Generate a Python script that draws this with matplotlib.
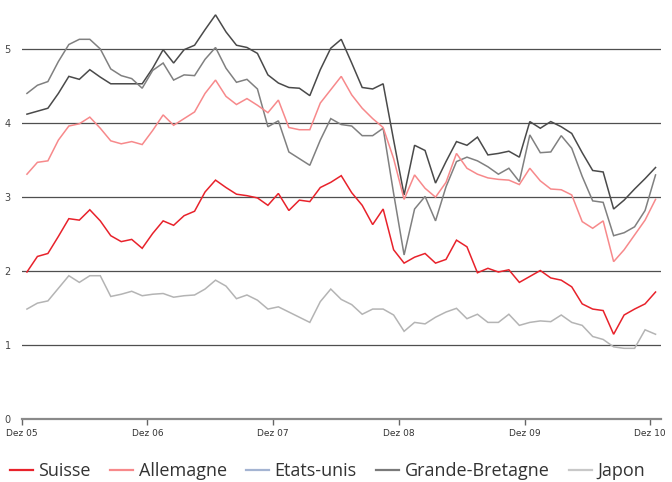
import matplotlib
matplotlib.use("Agg")
import matplotlib.pyplot as plt
from matplotlib.lines import Line2D
import numpy as np

# monthly values, Dez 05 .. Dez 10 (61 months)
suisse = [1.99, 2.20, 2.24, 2.47, 2.71, 2.69, 2.83, 2.68, 2.48, 2.40, 2.43, 2.31,
          2.51, 2.68, 2.62, 2.75, 2.81, 3.07, 3.23, 3.13, 3.04, 3.02, 2.99, 2.89,
          3.05, 2.82, 2.96, 2.94, 3.13, 3.20, 3.29, 3.06, 2.89, 2.63, 2.84, 2.29,
          2.11, 2.19, 2.24, 2.11, 2.16, 2.42, 2.33, 1.98, 2.04, 1.99, 2.02, 1.85,
          1.93, 2.01, 1.91, 1.88, 1.79, 1.56, 1.49, 1.47, 1.15, 1.41, 1.49, 1.56,
          1.72]
allemagne = [3.31, 3.47, 3.49, 3.77, 3.96, 3.99, 4.08, 3.93, 3.76, 3.72, 3.75, 3.71,
             3.90, 4.11, 3.97, 4.06, 4.15, 4.40, 4.58, 4.36, 4.25, 4.33, 4.24, 4.14,
             4.31, 3.94, 3.91, 3.91, 4.27, 4.45, 4.63, 4.38, 4.20, 4.06, 3.94, 3.52,
             2.97, 3.30, 3.12, 3.00, 3.20, 3.59, 3.39, 3.31, 3.26, 3.24, 3.23, 3.17,
             3.39, 3.22, 3.11, 3.10, 3.03, 2.67, 2.58, 2.68, 2.13, 2.29, 2.49, 2.69,
             2.97]
etats_unis = [4.40, 4.51, 4.56, 4.83, 5.06, 5.13, 5.13, 5.00, 4.73, 4.64, 4.60, 4.47,
              4.71, 4.81, 4.58, 4.65, 4.64, 4.86, 5.02, 4.74, 4.55, 4.59, 4.46, 3.95,
              4.03, 3.61, 3.52, 3.43, 3.77, 4.06, 3.98, 3.96, 3.83, 3.83, 3.93, 3.05,
              2.22, 2.84, 3.01, 2.68, 3.14, 3.48, 3.54, 3.49, 3.41, 3.31, 3.39, 3.21,
              3.84, 3.60, 3.61, 3.83, 3.66, 3.28, 2.95, 2.93, 2.48, 2.52, 2.60, 2.82,
              3.30]
grande_bretagne = [4.12, 4.16, 4.20, 4.40, 4.63, 4.59, 4.72, 4.62, 4.53, 4.53, 4.53, 4.53,
                   4.74, 4.99, 4.81, 4.99, 5.05, 5.26, 5.46, 5.23, 5.05, 5.02, 4.94, 4.65,
                   4.54, 4.48, 4.47, 4.37, 4.72, 5.01, 5.13, 4.81, 4.48, 4.46, 4.53, 3.77,
                   3.03, 3.70, 3.63, 3.19, 3.48, 3.75, 3.70, 3.81, 3.57, 3.59, 3.62, 3.54,
                   4.02, 3.93, 4.02, 3.95, 3.86, 3.60, 3.36, 3.34, 2.84, 2.96, 3.11, 3.25,
                   3.40]
japon = [1.49, 1.57, 1.60, 1.77, 1.94, 1.85, 1.94, 1.94, 1.66, 1.69, 1.73, 1.67,
         1.69, 1.70, 1.65, 1.67, 1.68, 1.76, 1.88, 1.80, 1.63, 1.68, 1.61, 1.49,
         1.52, 1.45, 1.38, 1.31, 1.59, 1.76, 1.62, 1.55, 1.42, 1.49, 1.49, 1.41,
         1.19, 1.31, 1.29, 1.38, 1.45, 1.50, 1.36, 1.42, 1.31, 1.31, 1.42, 1.27,
         1.31, 1.33, 1.32, 1.41, 1.31, 1.27, 1.12, 1.08, 0.98, 0.96, 0.96, 1.21,
         1.15]

year_labels = ["Dez 05", "Dez 06", "Dez 07", "Dez 08", "Dez 09", "Dez 10"]
names = ["Suisse", "Allemagne", "Etats-unis", "Grande-Bretagne", "Japon"]
line_colors = ["#e8222b", "#f7898b", "#808080", "#4a4a4a", "#b4b4b4"]
legend_colors = ["#e8222b", "#f7898b", "#a4b4d2", "#7a7a7a", "#c8c8c8"]

fig = plt.figure(figsize=(6.72, 4.82), dpi=100)
ax = fig.add_axes([0.0323, 0.1297, 0.951, 0.861])

x = np.arange(len(suisse)) + 0.5
series = [suisse, allemagne, etats_unis, grande_bretagne, japon]
for vals, c in zip(series[::-1], line_colors[::-1]):
    ax.plot(x, vals, color=c, lw=1.1, solid_joinstyle="miter")

ax.set_xlim(0, 61)
ax.set_ylim(0, 5.6)
for yv in range(1, 6):
    ax.axhline(yv, color="#4f4f4f", lw=0.9, zorder=0)

for s in ["top", "right", "left"]:
    ax.spines[s].set_visible(False)
ax.spines["bottom"].set_color("#8a8a8a")
ax.spines["bottom"].set_linewidth(1.6)

ax.set_yticks(range(0, 6))
ax.set_yticklabels([str(v) for v in range(0, 6)], fontsize=7, color="#444444")
ax.tick_params(axis="y", length=0, pad=8)
ax.set_xticks(np.arange(0, 61, 12))
ax.set_xticklabels(year_labels, fontsize=6.5, color="#333333")
ax.tick_params(axis="x", length=4, width=1, color="#666666", direction="out", pad=3)

handles = [Line2D([], [], color=c, lw=1.6) for c in legend_colors]
fig.legend(handles, names, loc="lower left", bbox_to_anchor=(-0.01, -0.03), ncol=5,
           frameon=False, prop={"family": "Open Sans", "size": 13},
           handlelength=1.3, handletextpad=0.3, columnspacing=1.05,
           labelcolor="#333333")

fig.savefig("out.png", dpi=100)
